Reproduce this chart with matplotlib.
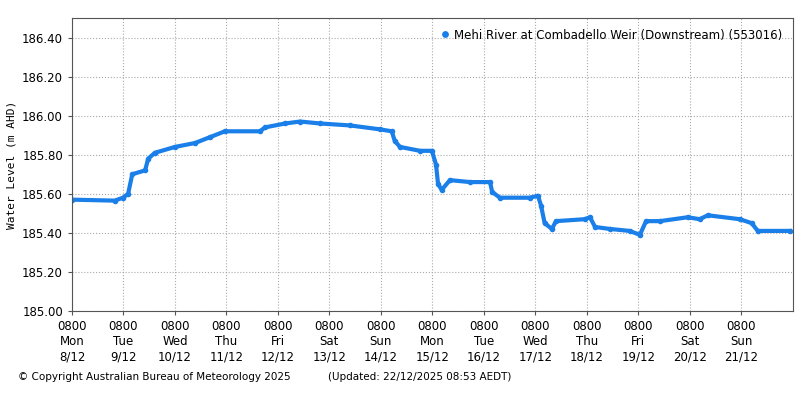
import matplotlib
matplotlib.use("Agg")
import matplotlib.pyplot as plt

# time in days since 0800 Mon 8/12, water level in m AHD
days = [0.0, 0.83, 0.99, 1.09, 1.17, 1.42, 1.48, 1.61, 2.0, 2.39, 2.68, 2.97, 3.65, 3.75,
        4.14, 4.43, 4.82, 5.40, 5.98, 6.21, 6.27, 6.37, 6.76, 6.99, 7.07, 7.11, 7.18, 7.34,
        7.73, 8.12, 8.16, 8.31, 8.89, 9.05, 9.11, 9.18, 9.32, 9.40, 9.96, 10.06, 10.16,
        10.45, 10.83, 11.03, 11.15, 11.42, 11.96, 12.19, 12.35, 12.97, 13.20, 13.32, 13.94]
level = [185.57, 185.565, 185.58, 185.60, 185.70, 185.72, 185.78, 185.81, 185.84, 185.86,
         185.89, 185.92, 185.92, 185.94, 185.96, 185.97, 185.96, 185.95, 185.93, 185.92,
         185.87, 185.84, 185.82, 185.82, 185.75, 185.65, 185.62, 185.67, 185.66, 185.66,
         185.61, 185.58, 185.58, 185.59, 185.54, 185.45, 185.42, 185.46, 185.47, 185.48,
         185.43, 185.42, 185.41, 185.39, 185.46, 185.46, 185.48, 185.47, 185.49, 185.47,
         185.45, 185.41, 185.41]

tick_labels = ["0800\nMon\n8/12", "0800\nTue\n9/12", "0800\nWed\n10/12", "0800\nThu\n11/12",
               "0800\nFri\n12/12", "0800\nSat\n13/12", "0800\nSun\n14/12", "0800\nMon\n15/12",
               "0800\nTue\n16/12", "0800\nWed\n17/12", "0800\nThu\n18/12", "0800\nFri\n19/12",
               "0800\nSat\n20/12", "0800\nSun\n21/12"]
y_ticks = [185.0, 185.2, 185.4, 185.6, 185.8, 186.0, 186.2, 186.4]

color = "#1a7fe8"
fig = plt.figure(figsize=(8, 4), dpi=100)
ax = fig.add_axes([0.09, 0.2225, 0.901, 0.7325])
ax.plot(days, level, color=color, linewidth=3, marker="o", markersize=3,
        label="Mehi River at Combadello Weir (Downstream) (553016)")
ax.set_xlim(0, 14)
ax.set_ylim(185.0, 186.5)
ax.set_xticks(range(14))
ax.set_xticklabels(tick_labels, fontsize=8.5)
ax.set_yticks(y_ticks)
ax.set_yticklabels([f"{v:.2f}" for v in y_ticks], fontsize=8.5)
ax.tick_params(length=3, color="#555555")
ax.grid(True, linestyle=":", color="#aaaaaa", linewidth=0.8)
ax.set_ylabel("Water Level (m AHD)", family="DejaVu Sans Mono", fontsize=8)
for s in ax.spines.values():
    s.set_color("#555555")
leg = ax.legend(loc="upper right", frameon=False, fontsize=8.5, handlelength=0.5,
                markerscale=1.3, handletextpad=0.5)
for h in leg.legend_handles:
    h.set_linestyle("none")
fig.text(0.022, 0.05, "© Copyright Australian Bureau of Meteorology 2025", fontsize=7.5)
fig.text(0.41, 0.05, "(Updated: 22/12/2025 08:53 AEDT)", fontsize=7.5)
fig.savefig("out.png")
